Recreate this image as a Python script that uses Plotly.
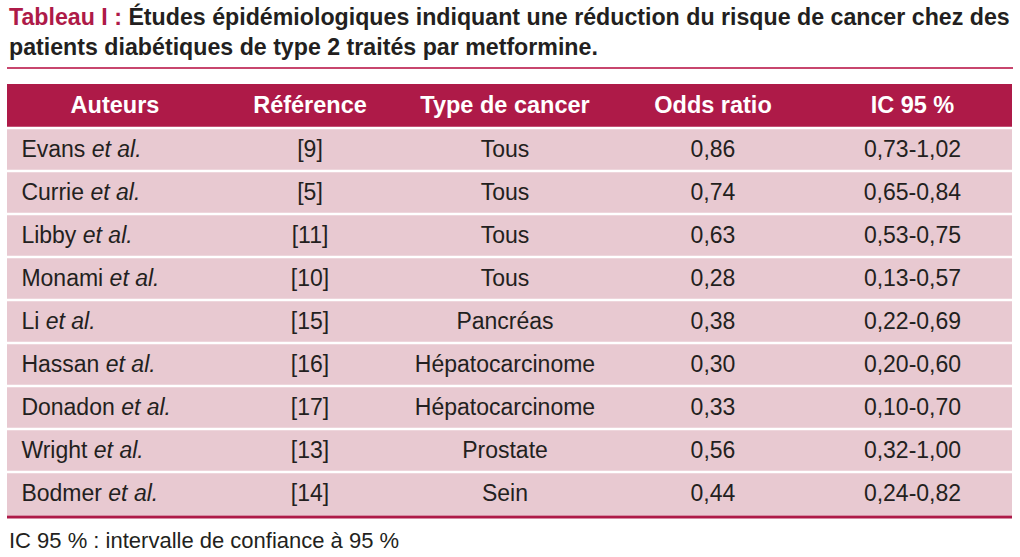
import plotly.graph_objects as go

W, H = 1020, 557

# table data
auteurs = ["Evans", "Currie", "Libby", "Monami", "Li", "Hassan", "Donadon", "Wright", "Bodmer"]
references = ["[9]", "[5]", "[11]", "[10]", "[15]", "[16]", "[17]", "[13]", "[14]"]
types_cancer = ["Tous", "Tous", "Tous", "Tous", "Pancréas", "Hépatocarcinome",
                "Hépatocarcinome", "Prostate", "Sein"]
odds_ratio = ["0,86", "0,74", "0,63", "0,28", "0,38", "0,30", "0,33", "0,56", "0,44"]
ic95 = ["0,73-1,02", "0,65-0,84", "0,53-0,75", "0,13-0,57", "0,22-0,69",
        "0,20-0,60", "0,10-0,70", "0,32-1,00", "0,24-0,82"]
headers = ["Auteurs", "Référence", "Type de cancer", "Odds ratio", "IC 95 %"]
col_widths = [216, 174, 216, 200, 199]

CRIMSON = "#AE1A48"
PINK = "#E8C9D1"
TEXT = "#231F20"
FONT = "Liberation Sans, Arial, sans-serif"

# layout constants (pixels)
left, right = 7, 1012
header_top, header_h, row_h = 84, 44, 43


def py(p):
    return 1 - p / H


def rich(vals):
    # same markup path for every column so baselines line up
    return ["<span>%s</span>" % v for v in vals]


auteurs_txt = ["\u00a0" + a + " <i>et al.</i>" for a in auteurs]

fig = go.Figure(go.Table(
    domain=dict(x=[left / W, right / W], y=[py(530), py(header_top)]),
    columnwidth=col_widths,
    header=dict(
        values=["<b>%s</b>" % h for h in headers],
        fill_color=CRIMSON,
        line=dict(width=0, color=CRIMSON),
        align="center",
        height=header_h,
        font=dict(family=FONT, size=23.5, color="white"),
    ),
    cells=dict(
        values=[auteurs_txt, rich(references), rich(types_cancer), rich(odds_ratio), rich(ic95)],
        fill_color=PINK,
        line=dict(width=0, color=PINK),
        align=["left", "center", "center", "center", "center"],
        height=row_h,
        font=dict(family=FONT, size=23, color=TEXT),
    ),
))

# white separators between rows
n = len(auteurs)
for k in range(n):
    yk = header_top + header_h + k * row_h
    fig.add_shape(type="line", xref="paper", yref="paper",
                  x0=left / W, x1=right / W, y0=py(yk), y1=py(yk),
                  line=dict(color="white", width=2.5))

table_bottom = header_top + header_h + n * row_h
# bottom crimson rule
fig.add_shape(type="line", xref="paper", yref="paper",
              x0=left / W, x1=right / W, y0=py(table_bottom + 2), y1=py(table_bottom + 2),
              line=dict(color=CRIMSON, width=3))
# rule under title
fig.add_shape(type="line", xref="paper", yref="paper",
              x0=left / W, x1=1013 / W, y0=py(68), y1=py(68),
              line=dict(color="#C8466E", width=2))

# title
fig.add_annotation(
    xref="paper", yref="paper", x=left / W, y=py(17), xanchor="left", yanchor="middle",
    showarrow=False, align="left",
    text="<span style='color:%s'><b>Tableau I :</b></span> <b>Études épidémiologiques indiquant "
         "une réduction du risque de cancer chez des</b>" % CRIMSON,
    font=dict(family=FONT, size=23.2, color=TEXT),
)
fig.add_annotation(
    xref="paper", yref="paper", x=left / W, y=py(47), xanchor="left", yanchor="middle",
    showarrow=False, align="left",
    text="<b>patients diabétiques de type 2 traités par metformine.</b>",
    font=dict(family=FONT, size=23.2, color=TEXT),
)
# footnote
fig.add_annotation(
    xref="paper", yref="paper", x=left / W, y=py(540), xanchor="left", yanchor="middle",
    showarrow=False, align="left",
    text="IC 95 % : intervalle de confiance à 95 %",
    font=dict(family=FONT, size=22, color=TEXT),
)

fig.update_layout(
    width=W, height=H,
    margin=dict(l=0, r=0, t=0, b=0),
    paper_bgcolor="white",
    plot_bgcolor="white",
)

# drop the default page margin so the figure fills the window
fig.write_html("out.html", config={"displayModeBar": False},
               post_script="document.body.style.margin='0';")
